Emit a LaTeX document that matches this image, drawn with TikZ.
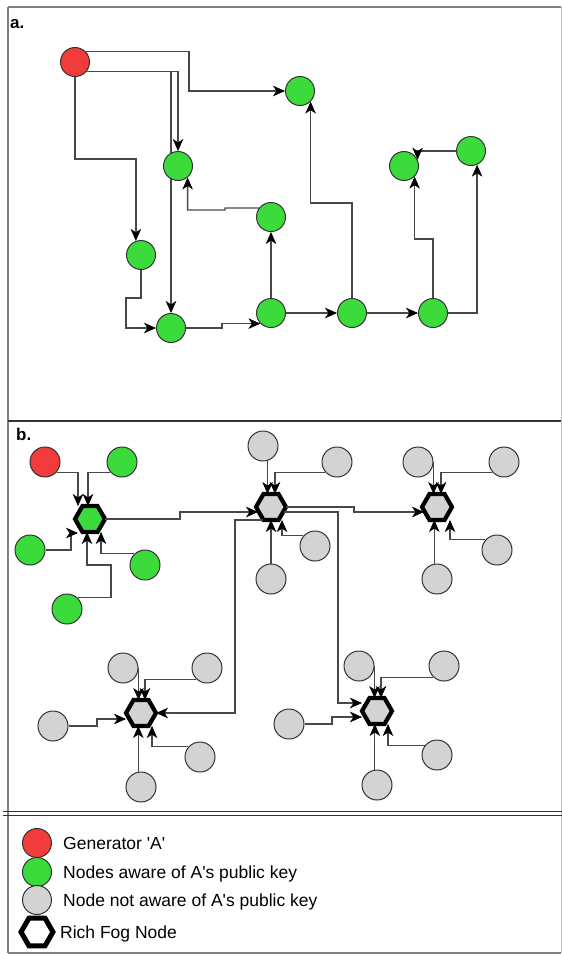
\documentclass[tikz,border=0pt]{standalone}
\usepackage{fontspec}
\setmainfont{Liberation Sans}
\usetikzlibrary{shapes.geometric,arrows.meta,calc,backgrounds}

\definecolor{nodered}{HTML}{F23B3B}
\definecolor{nodegreen}{HTML}{3CDB3C}
\definecolor{nodegray}{HTML}{D3D3D3}
\definecolor{edgegray}{HTML}{484848}
\definecolor{framegray}{HTML}{808080}

\begin{document}
\begin{tikzpicture}[x=1pt,y=-1pt,
  dot/.style={circle,draw=black!80,line width=1pt,minimum size=29pt,inner sep=0pt},
  dotb/.style={dot,minimum size=30pt},
  gen/.style={fill=nodered},
  aware/.style={fill=nodegreen},
  unaware/.style={fill=nodegray},
  fog/.style={regular polygon,regular polygon sides=6,minimum size=30pt,
    inner sep=0pt,outer sep=0pt,draw=black,line width=4.2pt},
  arr/.style={draw=edgegray,line width=1.3pt,
    arrows={-Stealth[length=12pt,width=10.5pt,inset=3.5pt,color=black,line width=0.6pt]}},
  frame/.style={draw=framegray,line width=1.3pt},
  legendtext/.style={anchor=base west,inner sep=0pt,font=\fontsize{17.5}{20}\selectfont},
  panellabel/.style={anchor=base west,inner sep=0pt,font=\fontsize{17}{20}\selectfont\bfseries}
]
\useasboundingbox (0,0) rectangle (562,954);

% ---------- frames ----------
\draw[frame,line width=2pt] (8,7) -- (561,7);
\draw[frame] (8,7) -- (8,953);
\draw[draw=black!25,line width=1pt] (561,7) -- (561,953);
\draw[draw=black!80,line width=1.2pt] (8,421) -- (561,421);
\draw[draw=black!80,line width=1pt] (3,811) -- (562,811);
\draw[draw=black!80,line width=1pt] (3,815) -- (562,815);
\draw[frame] (8,953) -- (561,953);

\node[panellabel] (la) at (10,28) {a.};
\node[panellabel] (lb) at (16,440) {b.};

% ---------- panel a: chain propagation ----------
\node[dot,gen]   (R)   at (75,62)  {};
\node[dot,aware] (G1)  at (300,91) {};
\node[dot,aware] (G2)  at (178,166) {};
\node[dot,aware] (G3)  at (271,217) {};
\node[dot,aware] (G4)  at (141,255) {};
\node[dot,aware] (G5)  at (171,328) {};
\node[dot,aware] (G6)  at (271,313) {};
\node[dot,aware] (G7)  at (352,313) {};
\node[dot,aware] (G8)  at (433,313) {};
\node[dot,aware] (G9)  at (404,166) {};
\node[dot,aware] (G10) at (471,151) {};

\begin{scope}[on background layer]
\draw[arr] (R.43) -| (189,91) -- (G1.west);
\draw[arr] (R.-38) -| (G2.north);
\draw[arr] (R.-38) -| (G5.north);
\draw[arr] (R.south) -- (75,159) -| (G4.110);
\draw[arr] (G4.south) -- (141,298) -- (126,298) |- (G5.west);
\draw[arr] (G5.east) -- (222,328) |- (G6.225);
\draw[arr] (G6.north) -- (G3.south);
\draw[arr] (G3.143) -- (225,208) -- (225,210) -| (G2.-50);
\draw[arr] (G6.east) -- (G7.west);
\draw[arr] (G7.east) -- (G8.west);
\draw[arr] (G7.north) -- (352,203) -| (G1.-45);
\draw[arr] (G8.north) -- (433,239) -| (G9.-45);
\draw[arr] (G8.east) -| (G10.-66);
\draw[arr] (G10.west) -| (G9.25);
\end{scope}

% ---------- panel b: rich fog nodes ----------
\node[fog,fill=nodegreen] (H1) at (90,519) {};
\node[fog,fill=nodegray]  (H2) at (271,507) {};
\node[fog,fill=nodegray]  (H3) at (437,507) {};
\node[fog,fill=nodegray]  (H4) at (141,713) {};
\node[fog,fill=nodegray]  (H5) at (377,711) {};

\node[dotb,gen]   (Rb)  at (45,462) {};
\node[dotb,aware] (Gb1) at (122,462) {};
\node[dotb,aware] (Gb2) at (30,550) {};
\node[dotb,aware] (Gb3) at (145,565) {};
\node[dotb,aware] (Gb4) at (67,609) {};

\node[dotb,unaware] (Cg1) at (263,446) {};
\node[dotb,unaware] (Cg2) at (337,462) {};
\node[dotb,unaware] (Cg3) at (315,546) {};
\node[dotb,unaware] (Cg4) at (271,579) {};

\node[dotb,unaware] (Dg1) at (418,462) {};
\node[dotb,unaware] (Dg2) at (504,462) {};
\node[dotb,unaware] (Dg3) at (497,550) {};
\node[dotb,unaware] (Dg4) at (437,579) {};

\node[dotb,unaware] (Eg1) at (123,668) {};
\node[dotb,unaware] (Eg2) at (207,668) {};
\node[dotb,unaware] (Eg3) at (53,726) {};
\node[dotb,unaware] (Eg4) at (200,757) {};
\node[dotb,unaware] (Eg5) at (141,787) {};

\node[dotb,unaware] (Fg1) at (359,666) {};
\node[dotb,unaware] (Fg2) at (444,666) {};
\node[dotb,unaware] (Fg3) at (289,724) {};
\node[dotb,unaware] (Fg4) at (437,755) {};
\node[dotb,unaware] (Fg5) at (377,785) {};

% leaves into H1
\draw[arr] (Rb.-42) -| ($(H1)+(-12,-13)$);
\draw[arr] (Gb1.222) -| ($(H1)+(-2,-13)$);
\draw[arr] (Gb2.east) -- (71,550) |- ($(H1)+(-12,14)$);
\draw[arr] (Gb4.47) -| (111,565) -| ($(H1)+(-3,13)$);
\draw[arr] (Gb3.133) -| ($(H1)+(11,13)$);
% leaves into H2
\draw[arr] (Cg1.-73) -- (Cg1.-73 |- H2.north);
\draw[arr] (Cg2.222) -| ($(H2)+(4,-13)$);
\draw[arr] (Cg3.138) -| ($(H2)+(11,13)$);
\draw[arr] (Cg4.north) -- (H2.south);
% leaves into H3
\draw[arr] (Dg1.east) -- (Dg1.east |- H3.north);
\draw[arr] (Dg2.222) -| ($(H3)+(4,-13)$);
\draw[arr] (Dg3.138) -| ($(H3)+(13,13)$);
\draw[arr] (Dg4.100) -- (Dg4.100 |- H3.south);
% leaves into H4
\draw[arr] (Eg1.east) -- (Eg1.east |- H4.north);
\draw[arr] (Eg2.227) -| ($(H4)+(4,-13)$);
\draw[arr] (Eg3.east) -| (97,719) -- ($(H4)+(-15,6)$);
\draw[arr] (Eg4.138) -| ($(H4)+(11,13)$);
\draw[arr] (Eg5.100) -- (Eg5.100 |- H4.south);
% leaves into H5
\draw[arr] (Fg1.east) -- (Fg1.east |- H5.north);
\draw[arr] (Fg2.227) -| ($(H5)+(4,-13)$);
\draw[arr] (Fg3.east) -| (332,717) -- ($(H5)+(-15,6)$);
\draw[arr] (Fg4.143) -| ($(H5)+(11,13)$);
\draw[arr] (Fg5.98) -- (Fg5.98 |- H5.south);
% fog to fog
\draw[arr] (H1.east) -- (180,519) |- ($(H2)+(-13,5)$);
\draw[arr] (H2.east) -| (354,512) -- ($(H3)+(-13,5)$);
\draw[arr] ($(H2)+(13,5)$) -| (338,703) -- ($(H5)+(-15,-8)$);
\draw[arr] ($(H2)+(-8,13)$) -| (235,713) -- (H4.east);

% ---------- legend ----------
\node[dot,gen]     (Lr) at (37,843) {};
\node[dot,aware]   (Lg) at (37,872) {};
\node[dot,unaware] (Lw) at (37,900) {};
\node[fog,fill=white,minimum size=32pt,line width=5pt] (Lh) at (37,932) {};
\node[legendtext] (Tr) at (63,849.5) {Generator \textquotesingle A\textquotesingle};
\node[legendtext] (Tg) at (63,878.5) {Nodes aware of A\textquotesingle s public key};
\node[legendtext] (Tw) at (63,906.5) {Node not aware of A\textquotesingle s public key};
\node[legendtext] (Th) at (60,938.5) {Rich Fog Node};
\end{tikzpicture}
\end{document}
